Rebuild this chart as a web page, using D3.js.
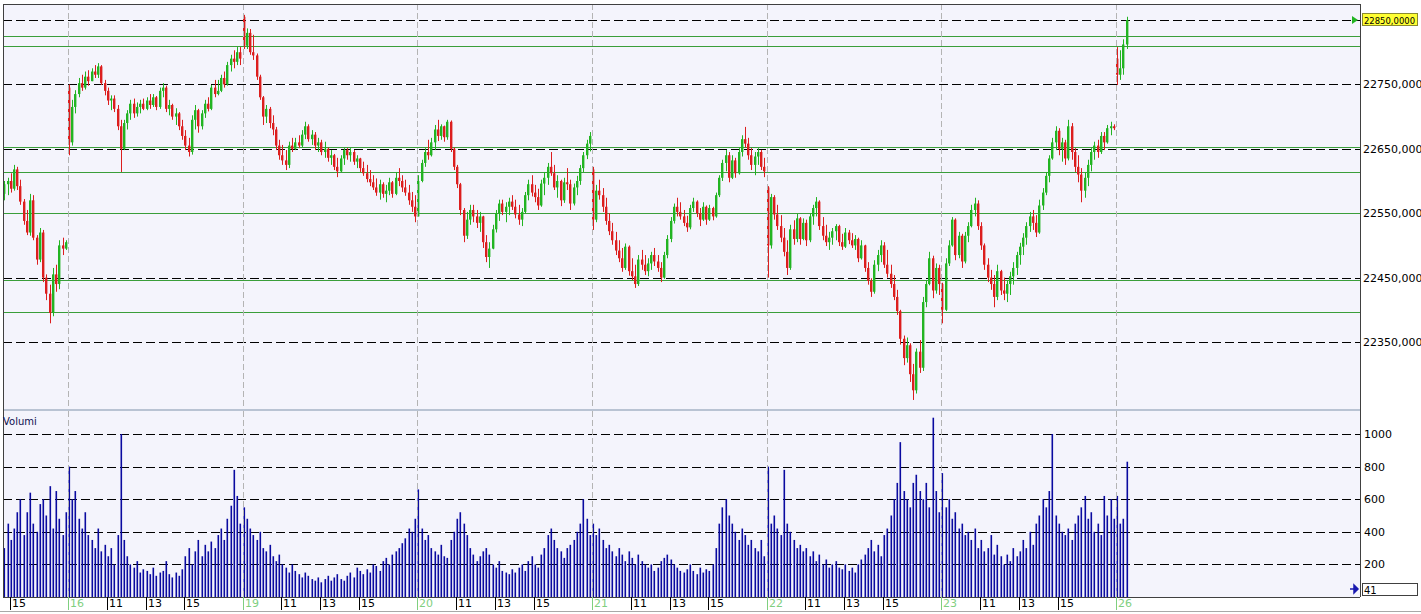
<!DOCTYPE html>
<html><head><meta charset="utf-8">
<script src="https://cdn.jsdelivr.net/npm/d3@7"></script>
<style>
body{margin:0;background:#fff;overflow:hidden;}
svg{display:block;}
text{font-family:"DejaVu Sans",Tahoma,sans-serif;}
</style>
</head><body>
<svg id="chart" width="1421" height="614"></svg>
<script>
// ---------------- DATA ----------------
const dayLabels   = ["15","16","19","20","21","22","23","26"];
const dayStartMin = [880, 540, 540, 540, 540, 540, 540, 540]; // first bar time (minutes from midnight)
const sessionOpenMin = 540;      // 09:00
const barMinutes = 10;
const hourLabels = ["11","13","15"];
const priceTicks = [22350,22450,22550,22650,22750,22850];
const volumeTicks = [200,400,600,800,1000];
const levelLines = [22825,22810,22653,22614,22550,22446,22397];
const lastPrice = 22850;
const lastVolume = 41;

const ohlc15 = [
[22580,22600,22570,22595],[22595,22605,22578,22600],[22600,22612,22582,22588],[22588,22625,22585,22618],
[22618,22622,22586,22592],[22592,22602,22563,22568],[22568,22572,22532,22538],[22538,22555,22516,22520],
[22520,22580,22515,22570],[22570,22578,22508,22512],[22512,22516,22470,22478],[22478,22527,22474,22520],
[22520,22524,22443,22450],[22450,22455,22415,22425],[22425,22439,22379,22395],[22395,22465,22390,22455],
[22455,22470,22428,22440],[22440,22508,22432,22500],[22500,22512,22485,22495],[22495,22508,22493,22505]];
const ohlc16 = [
[22745,22750,22640,22660],[22660,22726,22655,22715],[22715,22741,22705,22735],[22735,22760,22730,22752],
[22752,22765,22740,22745],[22745,22770,22742,22762],[22762,22772,22748,22755],[22755,22775,22755,22770],
[22770,22780,22760,22765],[22765,22783,22760,22778],[22778,22780,22749,22752],[22752,22757,22733,22740],
[22740,22745,22718,22725],[22725,22733,22710,22728],[22728,22733,22707,22712],[22712,22718,22679,22685],
[22685,22695,22614,22650],[22650,22695,22648,22690],[22690,22710,22680,22705],[22705,22726,22695,22720],
[22720,22728,22698,22705],[22705,22722,22700,22715],[22715,22726,22705,22720],[22720,22728,22710,22712],
[22712,22730,22710,22725],[22725,22735,22712,22718],[22718,22735,22715,22730],[22730,22732,22710,22715],
[22715,22745,22712,22740],[22740,22752,22730,22745],[22745,22748,22707,22712],[22712,22726,22702,22718],
[22718,22720,22695,22700],[22700,22713,22687,22705],[22705,22707,22679,22685],[22685,22695,22664,22670],
[22670,22679,22648,22655],[22655,22667,22638,22645],[22645,22702,22641,22695],[22695,22718,22680,22710],
[22710,22712,22675,22685],[22685,22710,22680,22705],[22705,22726,22698,22720],[22720,22730,22708,22712],
[22712,22749,22710,22745],[22745,22757,22730,22735],[22735,22757,22733,22740],[22740,22765,22738,22760],
[22760,22770,22745,22750],[22750,22785,22748,22780],[22780,22796,22770,22790],[22790,22803,22775,22785],
[22785,22808,22780,22800],[22800,22808,22780,22790]];
const ohlc19 = [
[22855,22858,22805,22810],[22810,22837,22805,22830],[22830,22836,22796,22800],[22800,22827,22788,22795],
[22795,22798,22757,22762],[22762,22765,22726,22730],[22730,22732,22687,22700],[22700,22718,22690,22712],
[22712,22715,22682,22690],[22690,22702,22671,22680],[22680,22684,22648,22655],[22655,22664,22633,22640],
[22640,22656,22625,22632],[22632,22648,22617,22625],[22625,22661,22620,22655],[22655,22667,22645,22650],
[22650,22667,22648,22660],[22660,22671,22651,22655],[22655,22679,22652,22672],[22672,22692,22665,22685],
[22685,22688,22661,22665],[22665,22679,22656,22672],[22672,22676,22648,22655],[22655,22667,22645,22660],
[22660,22664,22640,22645],[22645,22661,22636,22650],[22650,22652,22630,22636],[22636,22648,22625,22640],
[22640,22642,22617,22622],[22622,22636,22606,22615],[22615,22640,22614,22635],[22635,22651,22625,22648],
[22648,22651,22633,22640],[22640,22651,22630,22645],[22645,22648,22625,22630],[22630,22640,22620,22635],
[22635,22636,22614,22620],[22620,22630,22608,22612],[22612,22625,22598,22603],[22603,22617,22592,22598],
[22598,22609,22586,22590],[22590,22604,22577,22582],[22582,22602,22571,22595],[22595,22598,22574,22580],
[22580,22594,22567,22585],[22585,22605,22578,22598],[22598,22600,22574,22580],[22580,22614,22578,22605],
[22605,22620,22592,22600],[22600,22609,22583,22590],[22590,22602,22577,22582],[22582,22594,22563,22570],
[22570,22583,22552,22560],[22560,22578,22536,22545]];
const ohlc20 = [
[22545,22609,22545,22600],[22600,22633,22598,22628],[22628,22651,22622,22645],[22645,22664,22633,22640],
[22640,22667,22638,22660],[22660,22687,22648,22680],[22680,22695,22662,22670],[22670,22688,22664,22685],
[22685,22686,22661,22668],[22668,22695,22664,22692],[22692,22694,22645,22650],[22650,22652,22617,22622],
[22622,22625,22589,22595],[22595,22597,22547,22555],[22555,22558,22505,22515],[22515,22552,22510,22540],
[22540,22563,22532,22555],[22555,22563,22536,22545],[22545,22555,22527,22535],[22535,22552,22521,22545],
[22545,22546,22496,22505],[22505,22516,22474,22482],[22482,22505,22465,22495],[22495,22532,22494,22525],
[22525,22555,22520,22550],[22550,22571,22538,22565],[22565,22571,22547,22552],[22552,22567,22536,22560],
[22560,22574,22547,22568],[22568,22578,22555,22560],[22560,22571,22542,22548],[22548,22563,22532,22540],
[22540,22558,22530,22552],[22552,22583,22550,22578],[22578,22602,22570,22595],[22595,22609,22576,22582],
[22582,22594,22567,22575],[22575,22588,22555,22562],[22562,22602,22560,22596],[22596,22614,22578,22605],
[22605,22628,22594,22622],[22622,22645,22608,22612],[22612,22625,22586,22590],[22590,22609,22574,22600],
[22600,22602,22561,22570],[22570,22605,22566,22598],[22598,22620,22586,22595],[22595,22602,22555,22565],
[22565,22596,22562,22590],[22590,22608,22578,22600],[22600,22625,22594,22620],[22620,22645,22614,22640],
[22640,22664,22634,22658],[22658,22676,22646,22670]];
const ohlc21 = [
[22618,22622,22524,22540],[22540,22594,22536,22585],[22585,22602,22571,22578],[22578,22589,22552,22560],
[22560,22574,22532,22538],[22538,22550,22516,22522],[22522,22535,22501,22508],[22508,22521,22485,22492],
[22492,22508,22474,22480],[22480,22496,22459,22465],[22465,22503,22462,22498],[22498,22500,22453,22460],
[22460,22480,22446,22452],[22452,22470,22434,22440],[22440,22485,22437,22478],[22478,22493,22462,22470],
[22470,22485,22454,22460],[22460,22480,22452,22472],[22472,22490,22462,22485],[22485,22496,22468,22475],
[22475,22485,22459,22465],[22465,22474,22443,22450],[22450,22490,22448,22485],[22485,22516,22480,22510],
[22510,22544,22505,22538],[22538,22565,22534,22560],[22560,22574,22545,22552],[22552,22567,22540,22545],
[22545,22555,22530,22535],[22535,22546,22521,22528],[22528,22563,22525,22558],[22558,22574,22552,22568],
[22568,22570,22544,22550],[22550,22558,22530,22540],[22540,22567,22538,22560],[22560,22562,22532,22540],
[22540,22563,22538,22558],[22558,22560,22539,22545],[22545,22582,22543,22578],[22578,22609,22575,22605],
[22605,22633,22600,22628],[22628,22648,22615,22640],[22640,22645,22598,22605],[22605,22640,22603,22632],
[22632,22636,22605,22612],[22612,22651,22610,22645],[22645,22671,22638,22665],[22665,22684,22652,22658],
[22658,22667,22633,22640],[22640,22651,22617,22625],[22625,22645,22609,22638],[22638,22651,22625,22645],
[22645,22648,22617,22622],[22622,22636,22606,22615]];
const ohlc22 = [
[22590,22592,22450,22500],[22500,22580,22495,22575],[22575,22578,22540,22548],[22548,22563,22524,22530],
[22530,22547,22505,22512],[22512,22527,22483,22490],[22490,22508,22454,22465],[22465,22532,22462,22525],
[22525,22539,22501,22510],[22510,22549,22505,22542],[22542,22544,22501,22510],[22510,22542,22508,22535],
[22535,22540,22499,22508],[22508,22549,22505,22545],[22545,22563,22532,22558],[22558,22575,22545,22568],
[22568,22570,22524,22530],[22530,22544,22508,22515],[22515,22532,22499,22505],[22505,22521,22493,22512],
[22512,22527,22501,22522],[22522,22533,22508,22530],[22530,22532,22499,22505],[22505,22518,22493,22498],
[22498,22527,22496,22520],[22520,22524,22502,22508],[22508,22519,22496,22500],[22500,22516,22493,22510],
[22510,22512,22474,22480],[22480,22508,22478,22500],[22500,22501,22459,22465],[22465,22474,22439,22445],
[22445,22449,22420,22428],[22428,22477,22425,22470],[22470,22493,22460,22485],[22485,22508,22474,22500],
[22500,22505,22465,22470],[22470,22493,22450,22456],[22456,22470,22434,22440],[22440,22454,22415,22420],
[22420,22431,22392,22398],[22398,22400,22346,22355],[22355,22360,22314,22325],[22325,22357,22318,22345],
[22345,22348,22288,22300],[22300,22316,22260,22275],[22275,22340,22270,22335],[22335,22353,22302,22310],
[22310,22420,22305,22412],[22412,22446,22404,22440],[22440,22490,22438,22480],[22480,22484,22418,22430],
[22430,22472,22425,22465],[22465,22470,22423,22440]];
const ohlc23 = [
[22440,22442,22379,22400],[22400,22480,22398,22472],[22472,22508,22468,22500],[22500,22544,22498,22540],
[22540,22542,22477,22485],[22485,22521,22480,22515],[22515,22518,22465,22475],[22475,22521,22472,22515],
[22515,22536,22505,22530],[22530,22563,22528,22555],[22555,22574,22545,22565],[22565,22570,22524,22530],
[22530,22536,22493,22500],[22500,22503,22462,22470],[22470,22480,22443,22450],[22450,22462,22431,22440],
[22440,22454,22404,22420],[22420,22470,22415,22460],[22460,22462,22423,22430],[22430,22450,22415,22425],
[22425,22446,22412,22440],[22440,22459,22423,22452],[22452,22474,22439,22465],[22465,22490,22454,22485],
[22485,22504,22470,22498],[22498,22519,22485,22512],[22512,22536,22501,22530],[22530,22552,22521,22545],
[22545,22555,22524,22535],[22535,22547,22513,22520],[22520,22571,22518,22562],[22562,22589,22555,22582],
[22582,22614,22578,22608],[22608,22640,22598,22635],[22635,22667,22633,22660],[22660,22685,22648,22678],
[22678,22682,22640,22650],[22650,22667,22630,22660],[22660,22664,22625,22635],[22635,22695,22632,22685],
[22685,22690,22633,22645],[22645,22651,22614,22622],[22622,22640,22598,22610],[22610,22620,22567,22585],
[22585,22614,22574,22605],[22605,22633,22592,22625],[22625,22651,22615,22645],[22645,22661,22633,22655],
[22655,22664,22636,22645],[22645,22676,22642,22670],[22670,22676,22648,22660],[22660,22687,22658,22682],
[22682,22692,22671,22685],[22685,22688,22679,22682]];
const ohlc26 = [
[22790,22808,22749,22765],[22765,22803,22757,22775],[22775,22820,22765,22812],[22812,22855,22805,22850]];

const vol15 = [300,450,350,420,520,600,380,520,640,450,400,570,600,500,680,420,650,480,380,520];
const vol16 = [800,600,650,480,420,520,380,350,300,420,280,320,250,300,200,380,1000,350,250,200,
180,220,150,170,160,140,180,130,150,160,220,140,120,150,130,170,250,300,200,280,
350,250,320,280,340,300,380,420,350,480,560,780,620,450];
const vol19 = [550,480,420,380,350,400,300,280,320,250,220,260,200,180,150,200,160,140,120,150,
130,110,100,120,90,110,130,100,120,140,110,100,130,150,120,180,160,140,170,150,
200,190,160,220,240,200,260,280,300,330,360,420,400,480];
const vol20 = [660,420,350,380,300,280,260,320,250,240,350,400,480,520,450,380,300,260,220,250,
280,300,260,200,180,220,160,150,140,170,150,180,200,160,220,250,200,180,260,300,
380,420,350,300,280,240,300,320,350,400,450,600,480,380];
const vol21 = [450,380,420,350,300,320,280,250,300,260,220,280,240,200,260,220,200,180,200,160,
180,220,240,260,230,200,180,160,150,170,200,160,140,180,150,170,160,200,300,450,
550,600,500,450,400,350,420,380,320,350,300,280,350,250];
const vol22 = [800,450,500,420,380,780,450,400,350,300,320,280,300,250,280,220,260,200,230,180,
200,220,180,170,200,160,180,150,200,230,260,300,350,280,320,250,380,420,500,600,
700,950,650,600,550,700,750,650,600,700,550,1100,650,520];
const vol23 = [760,550,600,480,520,420,450,380,400,350,420,300,350,280,300,380,260,320,250,200,
260,220,300,250,280,350,300,400,320,450,500,600,550,650,1000,500,450,400,380,420,
350,450,500,550,620,480,520,400,450,380,620,500,600,480];
const vol26 = [620,450,480,830];

const ohlcByDay = [ohlc15,ohlc16,ohlc19,ohlc20,ohlc21,ohlc22,ohlc23,ohlc26];
const volByDay  = [vol15,vol16,vol19,vol20,vol21,vol22,vol23,vol26];

// ---------------- BUILD ----------------
const bars = [];
const xTicks = [];
ohlcByDay.forEach((arr, d) => {
  arr.forEach((r, k) => {
    const idx = bars.length;
    const minute = dayStartMin[d] + k * barMinutes;
    if (minute === sessionOpenMin) xTicks.push({i: idx, label: dayLabels[d], day: true});
    hourLabels.forEach(h => { if (minute === +h * 60) xTicks.push({i: idx, label: h, day: false}); });
    bars.push({i: idx, o: r[0], h: r[1], l: r[2], c: r[3], v: volByDay[d][k]});
  });
});

// ---------------- LAYOUT ----------------
const W = 1421, H = 614;
const L = 3, R = 1360;
const priceTop = 4, priceBot = 409, volTop = 411, volBot = 597;

const svg = d3.select("#chart");
const x = d3.scaleLinear().domain([0, 348]).range([3.3, 3.3 + 348 * 3.2346]);
const yP = d3.scaleLinear().domain([22350, 22850]).range([342, 20]);
const yV = d3.scaleLinear().domain([0, 1000]).range([volBot, 434]);

svg.append("rect").attr("width", W).attr("height", H).attr("fill", "#ffffff");
svg.append("rect").attr("x", L).attr("y", priceTop).attr("width", R - L).attr("height", priceBot - priceTop).attr("fill", "#f4f4fc");
svg.append("rect").attr("x", L).attr("y", volTop).attr("width", R - L).attr("height", volBot - volTop).attr("fill", "#f4f4fc");
svg.append("rect").attr("x", L).attr("y", priceBot).attr("width", R - L).attr("height", 2).attr("fill", "#b9c3d3");

const defs = svg.append("defs");
defs.append("clipPath").attr("id", "cp").append("rect").attr("x", L).attr("y", priceTop).attr("width", R - L).attr("height", priceBot - priceTop);
defs.append("clipPath").attr("id", "cv").append("rect").attr("x", L).attr("y", volTop).attr("width", R - L).attr("height", volBot - volTop);

const gP = svg.append("g").attr("clip-path", "url(#cp)");
const gV = svg.append("g").attr("clip-path", "url(#cv)");
const px = v => Math.round(v) + 0.5;

// vertical day separators
xTicks.filter(t => t.day).forEach(t => {
  [[priceTop, priceBot], [volTop, volBot]].forEach(([a, b]) => {
    svg.append("line").attr("x1", px(x(t.i))).attr("x2", px(x(t.i))).attr("y1", a).attr("y2", b)
      .attr("stroke", "#b4b4b4").attr("stroke-dasharray", "6,3").attr("stroke-width", 1);
  });
});

// horizontal dashed grids
gP.selectAll(".hg").data(priceTicks).join("line")
  .attr("x1", L).attr("x2", R).attr("y1", d => px(yP(d))).attr("y2", d => px(yP(d)))
  .attr("stroke", "#000").attr("stroke-dasharray", "9,4");
gV.selectAll(".vg").data(volumeTicks).join("line")
  .attr("x1", L).attr("x2", R).attr("y1", d => px(yV(d))).attr("y2", d => px(yV(d)))
  .attr("stroke", "#000").attr("stroke-dasharray", "9,4");

// green level lines
gP.selectAll(".lv").data(levelLines).join("line")
  .attr("x1", L).attr("x2", R).attr("y1", d => px(yP(d))).attr("y2", d => px(yP(d)))
  .attr("stroke", "#3a9e3a").attr("stroke-width", 1);

// candles
const up = "#22b422", dn = "#dc1e1e";
const cg = gP.selectAll(".cd").data(bars).join("g");
cg.append("line")
  .attr("x1", d => px(x(d.i) + 1)).attr("x2", d => px(x(d.i) + 1))
  .attr("y1", d => yP(d.h)).attr("y2", d => yP(d.l))
  .attr("stroke", d => d.c >= d.o ? up : dn).attr("stroke-width", 1);
cg.append("rect")
  .attr("x", d => Math.round(x(d.i) + 1) - 1).attr("width", 2.4)
  .attr("y", d => Math.min(yP(d.o), yP(d.c)))
  .attr("height", d => Math.max(1, Math.abs(yP(d.o) - yP(d.c))))
  .attr("fill", d => d.c >= d.o ? up : dn);

// volume bars
gV.selectAll(".vb").data(bars).join("rect")
  .attr("x", d => Math.round(x(d.i) + 1) - 0.5).attr("width", 1.6)
  .attr("y", d => yV(d.v)).attr("height", d => yV(0) - yV(d.v))
  .attr("fill", "#0a0aa0");

// borders
svg.append("line").attr("x1", L).attr("x2", R).attr("y1", priceTop + 0.5).attr("y2", priceTop + 0.5).attr("stroke", "#404040");
svg.append("line").attr("x1", L + 0.5).attr("x2", L + 0.5).attr("y1", priceTop).attr("y2", volBot).attr("stroke", "#404040");
svg.append("line").attr("x1", R + 0.5).attr("x2", R + 0.5).attr("y1", priceTop).attr("y2", volBot).attr("stroke", "#404040");
svg.append("line").attr("x1", L).attr("x2", R).attr("y1", volBot + 0.5).attr("y2", volBot + 0.5).attr("stroke", "#404040");
svg.append("line").attr("x1", 0).attr("x2", W).attr("y1", 611.5).attr("y2", 611.5).attr("stroke", "#a8a8a8");

// right axis: price labels
const fmt = d3.format(".4f");
const pLbl = d => fmt(d).replace(".", ",");
svg.selectAll(".pl").data(priceTicks.filter(p => p !== lastPrice)).join("text")
  .attr("x", 1363).attr("y", d => yP(d) + 4).attr("font-size", "11px").attr("fill", "#000").text(pLbl);
svg.selectAll(".vl").data(volumeTicks).join("text")
  .attr("x", 1364).attr("y", d => yV(d) + 4).attr("font-size", "11px").attr("fill", "#000").text(d => d);

// last price box
svg.append("rect").attr("x", 1362.5).attr("y", yP(lastPrice) - 6.5).attr("width", 55).attr("height", 12)
  .attr("fill", "#ffff33").attr("stroke", "#8a8a30");
svg.append("text").attr("x", 1364).attr("y", yP(lastPrice) + 3.5)
  .attr("font-family", "'DejaVu Sans Condensed','DejaVu Sans',sans-serif")
  .attr("font-size", "9.5px").attr("textLength", 51).attr("lengthAdjust", "spacingAndGlyphs")
  .attr("fill", "#000").text(pLbl(lastPrice));
svg.append("path").attr("d", `M1352,${yP(lastPrice) - 4}L1358,${yP(lastPrice)}L1352,${yP(lastPrice) + 4}Z`).attr("fill", "#22b422");

// last volume box
svg.append("rect").attr("x", 1362.5).attr("y", 583.5).attr("width", 55).attr("height", 12)
  .attr("fill", "#ffffff").attr("stroke", "#404040");
svg.append("text").attr("x", 1364).attr("y", 594).attr("font-size", "10px").attr("fill", "#000").text(lastVolume);
svg.append("path").attr("d", "M1350,589L1358,589M1354,585L1358,589L1354,593Z").attr("stroke", "#1a1ab0").attr("fill", "#1a1ab0").attr("stroke-width", 1.5);

// Volumi label
svg.append("text").attr("x", 3).attr("y", 425).attr("font-size", "10px").attr("fill", "#101050").text("Volumi");

// x axis ticks
const tg = svg.selectAll(".xt").data(xTicks).join("g");
tg.append("line").attr("x1", d => px(x(d.i))).attr("x2", d => px(x(d.i))).attr("y1", 597).attr("y2", 610)
  .attr("stroke", d => d.day ? "#7fcf7f" : "#000");
tg.append("text").attr("x", d => px(x(d.i)) + 1.5).attr("y", 607).attr("font-size", "11px")
  .attr("fill", d => d.day ? "#7fcf7f" : "#000").text(d => d.label);
</script>
</body></html>
